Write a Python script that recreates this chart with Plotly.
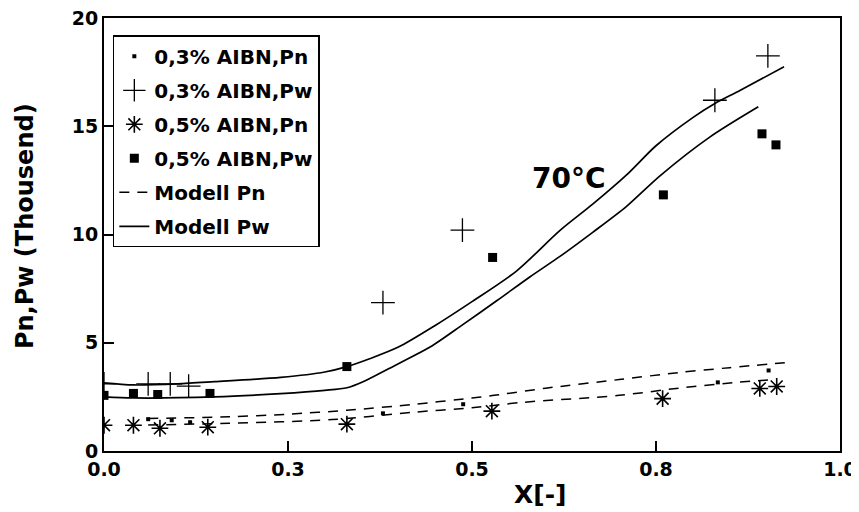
import plotly.graph_objects as go

# ---- data ----
conv_pn03 = [0.06, 0.092, 0.117, 0.379, 0.488, 0.834, 0.903]
pn03 = [1.47, 1.42, 1.33, 1.74, 2.16, 3.17, 3.72]

conv_pw03 = [0.0, 0.06, 0.09, 0.115, 0.379, 0.487, 0.83, 0.902]
pw03 = [3.1, 3.1, 3.1, 3.0, 6.85, 10.2, 16.2, 18.25]

conv_pn05 = [0.0, 0.04, 0.076, 0.141, 0.33, 0.527, 0.759, 0.891, 0.914]
pn05 = [1.19, 1.19, 1.05, 1.1, 1.24, 1.84, 2.42, 2.89, 2.98]

conv_pw05 = [0.0, 0.04, 0.073, 0.144, 0.33, 0.528, 0.76, 0.894, 0.913]
pw05 = [2.57, 2.66, 2.61, 2.66, 3.9, 8.94, 11.83, 14.65, 14.14]

model_pw_hi_x = [0.0, 0.04, 0.10, 0.15, 0.24, 0.30, 0.33, 0.36, 0.40, 0.45, 0.50, 0.56, 0.62, 0.664, 0.71, 0.75, 0.80, 0.83, 0.864, 0.924]
model_pw_hi_y = [3.15, 3.05, 3.1, 3.2, 3.4, 3.65, 3.9, 4.25, 4.8, 5.8, 6.9, 8.3, 10.2, 11.4, 12.75, 14.1, 15.4, 16.05, 16.65, 17.75]

model_pw_lo_x = [0.0, 0.04, 0.15, 0.24, 0.30, 0.33, 0.352, 0.398, 0.443, 0.488, 0.534, 0.579, 0.62, 0.664, 0.71, 0.755, 0.823, 0.889]
model_pw_lo_y = [2.5, 2.45, 2.5, 2.65, 2.8, 2.92, 3.2, 4.0, 4.8, 5.85, 6.95, 8.05, 9.0, 10.1, 11.3, 12.7, 14.5, 15.9]

model_pn_hi_x = [0.06, 0.17, 0.25, 0.33, 0.42, 0.5, 0.53, 0.6, 0.7, 0.78, 0.85, 0.925]
model_pn_hi_y = [1.5, 1.58, 1.7, 1.88, 2.15, 2.45, 2.57, 2.9, 3.3, 3.62, 3.85, 4.08]

model_pn_lo_x = [0.06, 0.17, 0.31, 0.42, 0.5, 0.57, 0.7, 0.79, 0.86, 0.91]
model_pn_lo_y = [1.2, 1.28, 1.45, 1.79, 2.0, 2.25, 2.57, 2.94, 3.17, 3.3]

x_tickvals = [0.0, 0.25, 0.5, 0.75, 1.0]
x_ticktext = ["0.0", "0.3", "0.5", "0.8", "1.0"]
y_tickvals = [0, 5, 10, 15, 20]

FONT = "DejaVu Sans"
BLACK = "black"

fig = go.Figure()

fig.add_trace(go.Scatter(x=conv_pn03, y=pn03, mode="markers", name="<b>0,3% AIBN,Pn</b>",
                         legendgroup="a",
                         marker=dict(symbol="square", size=4, color=BLACK)))
fig.add_trace(go.Scatter(x=conv_pw03, y=pw03, mode="markers", name="<b>0,3% AIBN,Pw</b>",
                         legendgroup="b",
                         marker=dict(symbol="cross-thin-open", size=17, color=BLACK,
                                     line=dict(width=1.3, color=BLACK))))
fig.add_trace(go.Scatter(x=conv_pn05, y=pn05, mode="markers", name="<b>0,5% AIBN,Pn</b>",
                         legendgroup="c",
                         marker=dict(symbol="asterisk-open", size=14, color=BLACK,
                                     line=dict(width=1.6, color=BLACK))))
fig.add_trace(go.Scatter(x=conv_pw05, y=pw05, mode="markers", name="<b>0,5% AIBN,Pw</b>",
                         legendgroup="d",
                         marker=dict(symbol="square", size=9, color=BLACK)))

fig.add_trace(go.Scatter(x=model_pn_hi_x, y=model_pn_hi_y, mode="lines", name="<b>Modell Pn</b>",
                         legendgroup="e",
                         line=dict(color=BLACK, width=1.5, dash="10px,8px", shape="spline", smoothing=0.8)))
fig.add_trace(go.Scatter(x=model_pn_lo_x, y=model_pn_lo_y, mode="lines", showlegend=False,
                         legendgroup="e",
                         line=dict(color=BLACK, width=1.5, dash="10px,8px", shape="spline", smoothing=0.8)))
fig.add_trace(go.Scatter(x=model_pw_hi_x, y=model_pw_hi_y, mode="lines", name="<b>Modell Pw</b>",
                         legendgroup="f",
                         line=dict(color=BLACK, width=1.7, shape="spline", smoothing=0.8)))
fig.add_trace(go.Scatter(x=model_pw_lo_x, y=model_pw_lo_y, mode="lines", showlegend=False,
                         legendgroup="f",
                         line=dict(color=BLACK, width=1.7, shape="spline", smoothing=0.8)))

axis_common = dict(
    showgrid=False, zeroline=False, showline=True, linecolor=BLACK, linewidth=1.8,
    mirror=True, ticks="inside", ticklen=10, tickwidth=1.5, tickcolor=BLACK,
    automargin=False, ticklabeloverflow="allow",
    tickfont=dict(family=FONT, size=19, color=BLACK, weight="bold"),
)

# the page body has an 8px margin, so the figure is drawn 8px smaller and shifted
fig.update_layout(
    width=851, height=504,
    margin=dict(l=96, r=19, t=10, b=61, autoexpand=False),
    paper_bgcolor="white", plot_bgcolor="white",
    font=dict(family=FONT, color=BLACK),
    xaxis=dict(range=[0, 1], tickvals=x_tickvals, ticktext=x_ticktext, **axis_common),
    yaxis=dict(range=[0, 20], tickvals=y_tickvals, **axis_common),
    showlegend=True,
    legend=dict(
        x=0.012, y=0.96, xanchor="left", yanchor="top",
        bgcolor="white", bordercolor=BLACK, borderwidth=1.5,
        font=dict(family=FONT, size=20, color=BLACK),
        tracegroupgap=5, traceorder="grouped",
    ),
    annotations=[
        dict(text="<b>70°C</b>", x=0.632, y=12.6, xref="x", yref="y", showarrow=False,
             font=dict(family=FONT, size=28, color=BLACK)),
        dict(text="<b>X[-]</b>", x=(540 - 104) / 736, y=-0.1, xref="paper", yref="paper",
             showarrow=False, yanchor="middle",
             font=dict(family=FONT, size=25, color=BLACK)),
        dict(text="<b>Pn,Pw (Thousend)</b>", x=-0.107, y=0.52, xref="paper", yref="paper",
             showarrow=False, textangle=-90, xanchor="center", yanchor="middle",
             font=dict(family=FONT, size=24, color=BLACK)),
    ],
)

fig.write_html("out.html")
